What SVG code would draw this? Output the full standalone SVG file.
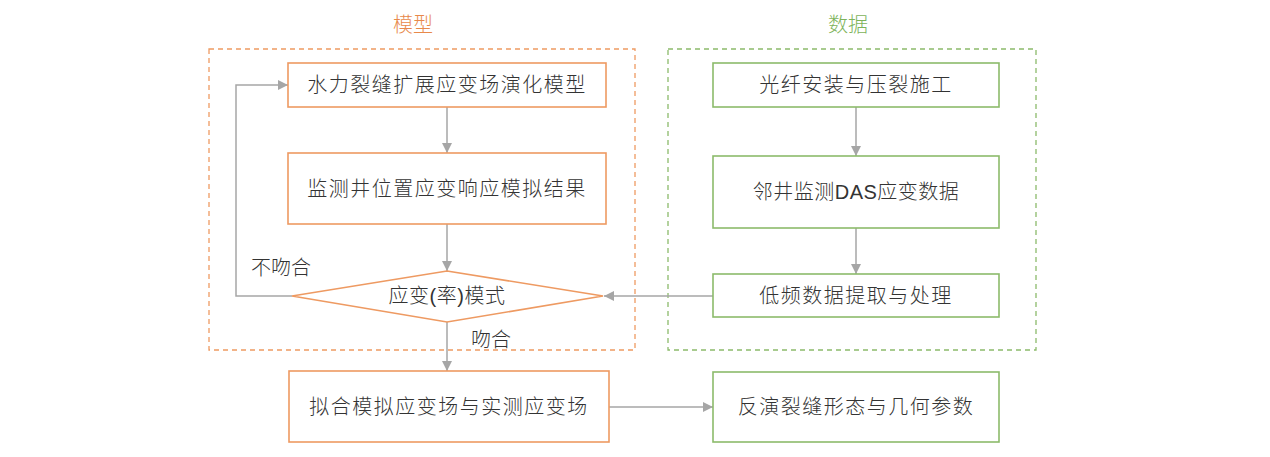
<svg xmlns="http://www.w3.org/2000/svg" width="1270" height="457" viewBox="0 0 1270 457">
<defs>
<marker id="arr" viewBox="0 0 10 10" refX="10" refY="5" markerWidth="10" markerHeight="10" markerUnits="userSpaceOnUse" orient="auto">
<path d="M0,0 L10,5 L0,10 Z" fill="#A6A6A6"/>
</marker>
<style>
.t{font-family:"Liberation Sans","Noto Sans CJK SC",sans-serif;font-size:20px;font-weight:300;fill:#333333;text-anchor:middle;dominant-baseline:central;letter-spacing:1.5px}
.lbl{font-family:"Liberation Sans","Noto Sans CJK SC",sans-serif;font-size:20px;font-weight:300;fill:#333333;text-anchor:middle;dominant-baseline:central}
.ob{fill:#FFFFFF;stroke:#EE9A62;stroke-width:1.6}
.gb{fill:#FFFFFF;stroke:#8CBB6B;stroke-width:1.6}
.od{fill:none;stroke:#EE9A62;stroke-width:1.3;stroke-dasharray:5,4}
.gd{fill:none;stroke:#8CBB6B;stroke-width:1.3;stroke-dasharray:5,4}
.c{fill:none;stroke:#A6A6A6;stroke-width:1.5;marker-end:url(#arr)}
</style>
</defs>
<rect width="1270" height="457" fill="#FFFFFF"/>
<g id="group-model">
<rect class="od" x="209" y="49" width="426" height="301"/>
<text class="t" x="413" y="25" style="fill:#E8894A;letter-spacing:0">模型</text>
</g>
<g id="group-data">
<rect class="gd" x="668" y="49" width="368" height="301"/>
<text class="t" x="848" y="25" style="fill:#7DB35A;letter-spacing:0">数据</text>
</g>
<g id="connectors">
<line class="c" x1="447" y1="107" x2="447" y2="153"/>
<line class="c" x1="447" y1="224" x2="447" y2="271"/>
<polyline class="c" points="292,296 236,296 236,85 288,85"/>
<line class="c" x1="713" y1="296" x2="604" y2="296"/>
<line class="c" x1="447" y1="322" x2="447" y2="371"/>
<line class="c" x1="609" y1="407" x2="713" y2="407"/>
<line class="c" x1="856" y1="107" x2="856" y2="156"/>
<line class="c" x1="856" y1="228" x2="856" y2="274"/>
<text class="lbl" x="281" y="268">不吻合</text>
<text class="lbl" x="491" y="340">吻合</text>
</g>
<g id="n1">
<rect class="ob" x="288" y="63" width="318" height="44"/>
<text class="t" x="447" y="85">水力裂缝扩展应变场演化模型</text>
</g>
<g id="n2">
<rect class="ob" x="288" y="153" width="318" height="71"/>
<text class="t" x="447" y="189">监测井位置应变响应模拟结果</text>
</g>
<g id="n3">
<polygon class="ob" points="447,271 603,296 447,322 292,296"/>
<text class="t" x="447" y="296" style="letter-spacing:0.5px">应变(率)模式</text>
</g>
<g id="n4">
<rect class="ob" x="289" y="371" width="320" height="71"/>
<text class="t" x="449" y="407">拟合模拟应变场与实测应变场</text>
</g>
<g id="g1">
<rect class="gb" x="713" y="63" width="286" height="44"/>
<text class="t" x="856" y="85">光纤安装与压裂施工</text>
</g>
<g id="g2">
<rect class="gb" x="713" y="156" width="286" height="72"/>
<text class="t" x="856" y="192" style="letter-spacing:0.5px">邻井监测DAS应变数据</text>
</g>
<g id="g3">
<rect class="gb" x="713" y="274" width="286" height="43"/>
<text class="t" x="856" y="296">低频数据提取与处理</text>
</g>
<g id="g4">
<rect class="gb" x="713" y="372" width="286" height="70"/>
<text class="t" x="856" y="407">反演裂缝形态与几何参数</text>
</g>
</svg>
